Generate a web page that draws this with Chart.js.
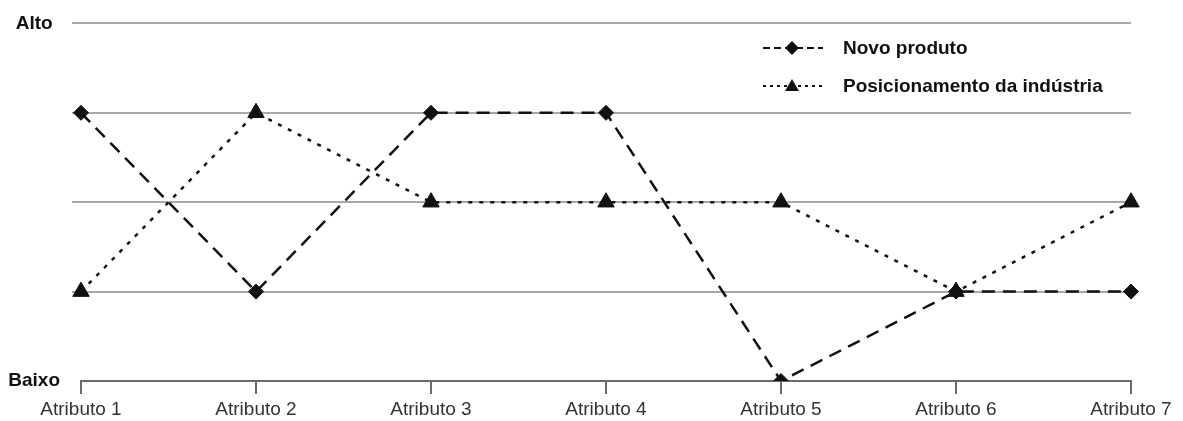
<!DOCTYPE html>
<html>
<head>
<meta charset="utf-8">
<script src="https://cdn.jsdelivr.net/npm/chart.js@4/dist/chart.umd.min.js"></script>
<style>
  html, body { margin: 0; padding: 0; background: #ffffff; }
  #wrap { width: 1183px; height: 421px; position: relative; }
</style>
</head>
<body>
<div id="wrap"><canvas id="chart"></canvas></div>
<script>
// Attributes compared along the horizontal axis
const categories = ['Atributo 1', 'Atributo 2', 'Atributo 3', 'Atributo 4', 'Atributo 5', 'Atributo 6', 'Atributo 7'];
// Level of each attribute: 0 = Baixo ... 4 = Alto
const novoProduto = [3, 1, 3, 3, 0, 1, 1];
const posicionamentoIndustria = [1, 3, 2, 2, 2, 1, 2];
// Text shown on the level axis
const levelLabels = { 0: 'Baixo', 4: 'Alto' };
const seriesNames = ['Novo produto', 'Posicionamento da indústria'];

const FONT = "'Liberation Sans', Arial, sans-serif";

// Legend drawn inside the plot, at the upper right, with shorter dashes and smaller markers
const legendDash = [[7, 4], [3, 4]];
const insideLegend = {
  id: 'insideLegend',
  afterDatasetsDraw(chart) {
    const ctx = chart.ctx;
    const items = chart.data.datasets;
    const x0 = 763, x1 = 823, mx = 792, tx = 843;
    const rows = [48, 86];
    items.forEach((ds, i) => {
      const y = rows[i];
      ctx.save();
      ctx.strokeStyle = ds.borderColor;
      ctx.lineWidth = 2;
      ctx.setLineDash(legendDash[i]);
      ctx.beginPath();
      ctx.moveTo(x0, y);
      ctx.lineTo(x1, y);
      ctx.stroke();
      ctx.setLineDash([]);
      Chart.helpers.drawPoint(ctx, {
        pointStyle: ds.pointStyle,
        radius: i === 0 ? 5.5 : 6,
        borderWidth: 1,
        rotation: 0
      }, mx, i === 0 ? y : y + 1);
      ctx.fillStyle = ds.pointBackgroundColor;
      ctx.strokeStyle = ds.pointBorderColor;
      ctx.lineWidth = 1;
      ctx.fill();
      ctx.stroke();
      ctx.fillStyle = '#111111';
      ctx.font = 'bold 19px ' + FONT;
      ctx.textBaseline = 'middle';
      ctx.textAlign = 'left';
      ctx.fillText(ds.label, tx, y + 1);
      ctx.restore();
    });
  }
};

new Chart(document.getElementById('chart'), {
  type: 'line',
  data: {
    labels: categories,
    datasets: [
      {
        label: seriesNames[0],
        data: novoProduto,
        borderColor: '#111111',
        borderWidth: 2.5,
        borderDash: [13, 8],
        pointStyle: 'rectRot',
        pointRadius: 7.5,
        pointBackgroundColor: '#111111',
        pointBorderColor: '#111111',
        pointBorderWidth: 1,
        tension: 0,
        fill: false
      },
      {
        label: seriesNames[1],
        data: posicionamentoIndustria,
        borderColor: '#111111',
        borderWidth: 2.5,
        borderDash: [4, 7],
        pointStyle: 'triangle',
        pointRadius: 9.5,
        pointBackgroundColor: '#111111',
        pointBorderColor: '#111111',
        pointBorderWidth: 1,
        tension: 0,
        fill: false
      }
    ]
  },
  options: {
    responsive: true,
    maintainAspectRatio: false,
    animation: false,
    layout: { padding: { top: 23, right: 52, left: 0, bottom: 0 } },
    plugins: {
      legend: { display: false },
      tooltip: { enabled: false }
    },
    scales: {
      x: {
        type: 'category',
        offset: false,
        afterFit(scale) { scale.height = 40; },
        border: { display: true, color: '#6a6a6a', width: 2 },
        grid: {
          drawOnChartArea: false,
          drawTicks: true,
          tickLength: 13,
          color: '#6a6a6a',
          lineWidth: 2
        },
        ticks: {
          color: '#333333',
          font: { family: FONT, size: 19 },
          padding: 4,
          maxRotation: 0,
          autoSkip: false
        }
      },
      y: {
        min: 0,
        max: 4,
        afterFit(scale) { scale.width = 81; },
        border: { display: false },
        grid: {
          drawTicks: true,
          tickLength: 9,
          lineWidth: 2,
          color: (c) => (c.tick && c.tick.value === 0) ? 'rgba(0,0,0,0)' : '#a8a8a8'
        },
        ticks: {
          stepSize: 1,
          padding: 12,
          crossAlign: 'center',
          color: '#111111',
          font: { family: FONT, size: 19, weight: 'bold' },
          callback: (v) => levelLabels[v] || ''
        }
      }
    }
  },
  plugins: [insideLegend]
});
</script>
</body>
</html>
